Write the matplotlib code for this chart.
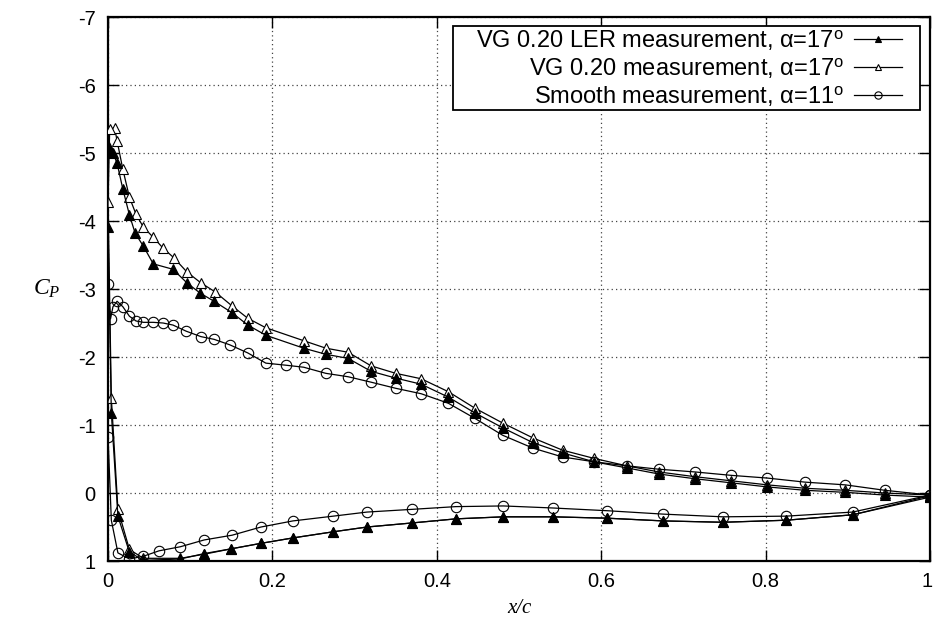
import matplotlib
matplotlib.use("Agg")
import matplotlib.pyplot as plt
from matplotlib.transforms import ScaledTranslation
from matplotlib.patches import Rectangle

plt.rcParams['axes.unicode_minus'] = False
plt.rcParams['mathtext.fontset'] = 'custom'
plt.rcParams['mathtext.rm'] = 'Liberation Sans'
plt.rcParams['mathtext.it'] = 'Liberation Serif:italic'
plt.rcParams['font.family'] = ['Liberation Sans', 'DejaVu Sans']

# VG 0.20 LER measurement, alpha=17 (filled triangles)
ler_x = [1.0, 0.945, 0.897, 0.848, 0.802, 0.758, 0.714, 0.670, 0.631, 0.591,
         0.553, 0.517, 0.480, 0.446, 0.414, 0.381, 0.350, 0.320, 0.292, 0.265,
         0.238, 0.192, 0.170, 0.151, 0.129, 0.112, 0.096, 0.079, 0.055, 0.043,
         0.033, 0.026, 0.018, 0.011, 0.006, 0.003, 0.0, 0.0,
         0.004, 0.012, 0.026, 0.043, 0.088, 0.117, 0.150, 0.186, 0.225, 0.274,
         0.315, 0.370, 0.423, 0.481, 0.541, 0.607, 0.675, 0.748, 0.825, 0.906, 1.0]
ler_cp = [0.06, 0.03, -0.01, -0.04, -0.09, -0.15, -0.21, -0.28, -0.37, -0.46,
          -0.59, -0.74, -0.96, -1.18, -1.41, -1.60, -1.69, -1.79, -1.98, -2.04,
          -2.13, -2.32, -2.47, -2.65, -2.82, -2.94, -3.09, -3.29, -3.37, -3.63,
          -3.82, -4.09, -4.47, -4.85, -5.00, -5.02, -5.12, -3.91,
          -1.18, 0.34, 0.87, 0.99, 0.97, 0.89, 0.82, 0.74, 0.66, 0.57,
          0.50, 0.44, 0.38, 0.35, 0.35, 0.37, 0.41, 0.43, 0.40, 0.32, 0.06]

# VG 0.20 measurement, alpha=17 (open triangles)
vg_x = [1.0, 0.945, 0.897, 0.848, 0.802, 0.758, 0.714, 0.670, 0.631, 0.591,
        0.553, 0.517, 0.480, 0.446, 0.414, 0.381, 0.350, 0.320, 0.292, 0.265,
        0.238, 0.192, 0.170, 0.151, 0.130, 0.113, 0.096, 0.080, 0.067, 0.055,
        0.043, 0.034, 0.026, 0.018, 0.011, 0.008, 0.002, 0.0,
        0.004, 0.012, 0.026, 0.043, 0.088, 0.117, 0.150, 0.186, 0.225, 0.274,
        0.315, 0.370, 0.423, 0.481, 0.541, 0.607, 0.675, 0.748, 0.825, 0.906, 1.0]
vg_cp = [0.03, 0.00, -0.04, -0.07, -0.12, -0.18, -0.24, -0.31, -0.40, -0.51,
         -0.63, -0.81, -1.03, -1.25, -1.49, -1.68, -1.76, -1.87, -2.07, -2.13,
         -2.24, -2.43, -2.57, -2.75, -2.96, -3.09, -3.25, -3.46, -3.60, -3.76,
         -3.91, -4.10, -4.35, -4.76, -5.18, -5.37, -5.35, -4.28,
         -1.40, 0.24, 0.83, 0.96, 0.96, 0.90, 0.82, 0.74, 0.66, 0.57,
         0.50, 0.44, 0.38, 0.35, 0.35, 0.37, 0.41, 0.43, 0.40, 0.32, 0.04]

# Smooth measurement, alpha=11 (open circles)
sm_x = [1.0, 0.945, 0.897, 0.848, 0.802, 0.758, 0.714, 0.670, 0.631, 0.591,
        0.553, 0.517, 0.480, 0.446, 0.414, 0.381, 0.350, 0.320, 0.292, 0.265,
        0.238, 0.216, 0.192, 0.170, 0.148, 0.129, 0.113, 0.095, 0.079, 0.067,
        0.055, 0.043, 0.034, 0.026, 0.018, 0.011, 0.006, 0.003, 0.0, 0.0,
        0.004, 0.012, 0.026, 0.043, 0.062, 0.088, 0.117, 0.151, 0.186, 0.225,
        0.274, 0.315, 0.370, 0.423, 0.481, 0.541, 0.607, 0.675, 0.748, 0.825,
        0.906, 1.0]
sm_cp = [0.03, -0.04, -0.12, -0.16, -0.22, -0.26, -0.31, -0.35, -0.40, -0.46,
         -0.53, -0.66, -0.85, -1.10, -1.32, -1.46, -1.54, -1.63, -1.71, -1.76,
         -1.85, -1.88, -1.91, -2.06, -2.18, -2.26, -2.30, -2.38, -2.47, -2.50,
         -2.51, -2.51, -2.53, -2.60, -2.74, -2.82, -2.74, -2.56, -3.07, -0.82,
         0.40, 0.88, 0.97, 0.93, 0.85, 0.79, 0.69, 0.62, 0.50, 0.41,
         0.34, 0.28, 0.24, 0.20, 0.19, 0.22, 0.26, 0.31, 0.35, 0.34,
         0.28, 0.03]

labels = [r"VG 0.20 LER measurement, α=17$^{\mathrm{o}}$",
          r"VG 0.20 measurement, α=17$^{\mathrm{o}}$",
          r"Smooth measurement, α=11$^{\mathrm{o}}$"]

x_ticks = [0, 0.2, 0.4, 0.6, 0.8, 1]
x_ticklabels = ["0", "0.2", "0.4", "0.6", "0.8", "1"]
y_ticks = [-7, -6, -5, -4, -3, -2, -1, 0, 1]
y_ticklabels = ["-7", "-6", "-5", "-4", "-3", "-2", "-1", "0", "1"]

fig = plt.figure(figsize=(9.33, 6.32), dpi=100)
ax = fig.add_axes([0.1158, 0.1123, 0.8810, 0.8608])

lw = 0.9
ax.plot(ler_x, ler_cp, color='black', lw=lw, marker='^', ms=7,
        mfc='black', mec='black', mew=0.8, label=labels[0], zorder=4)
ax.plot(vg_x, vg_cp, color='black', lw=lw, marker='^', ms=7,
        mfc='white', mec='black', mew=0.8, label=labels[1], zorder=3)
ax.plot(sm_x, sm_cp, color='black', lw=lw, marker='o', ms=7.5,
        mfc='none', mec='black', mew=0.8, label=labels[2], zorder=3)

ax.set_xlim(0, 1)
ax.set_ylim(1, -7)
ax.set_xticks(x_ticks)
ax.set_xticklabels(x_ticklabels, fontsize=14.5)
ax.set_yticks(y_ticks)
ax.set_yticklabels(y_ticklabels, fontsize=14.5)
ax.tick_params(direction='in', length=8, width=1, top=True, right=True,
               colors='black')
ax.tick_params(axis='y', pad=9)
ax.tick_params(axis='x', pad=8)
ax.grid(True, linestyle=(0, (1, 2.5)), color='#444444', lw=0.9)
for s in ax.spines.values():
    s.set_linewidth(1.6)
    s.set_color('black')

# keep the last x tick label inside the canvas
last = ax.get_xticklabels()[-1]
last.set_transform(last.get_transform() +
                   ScaledTranslation(-3 / 100, 0, fig.dpi_scale_trans))

ax.set_xlabel("x/c", family='Liberation Serif', style='italic', fontsize=15,
              labelpad=6)
ax.set_ylabel(r"$C_P$", fontsize=17, rotation=0, va='center', ha='center')
ax.yaxis.set_label_coords(-0.075, 0.5)

# legend frame (gnuplot-style box with wide left padding)
frame = Rectangle((0.4197, 0.829), 0.5681, 0.1545, transform=ax.transAxes,
                  facecolor='white', edgecolor='black', lw=1.3, zorder=5)
ax.add_patch(frame)

leg = ax.legend(loc='upper right', bbox_to_anchor=(0.966, 0.979),
                markerfirst=False, fontsize=17, frameon=False,
                borderpad=0.0, labelspacing=0.17, handlelength=2.05,
                handletextpad=0.4, markerscale=0.7, borderaxespad=0.0)
leg.set_zorder(6)
for t in leg.get_texts():
    t.set_ha('right')
leg._legend_box.align = 'right'

fig.savefig("out.png", dpi=100)
